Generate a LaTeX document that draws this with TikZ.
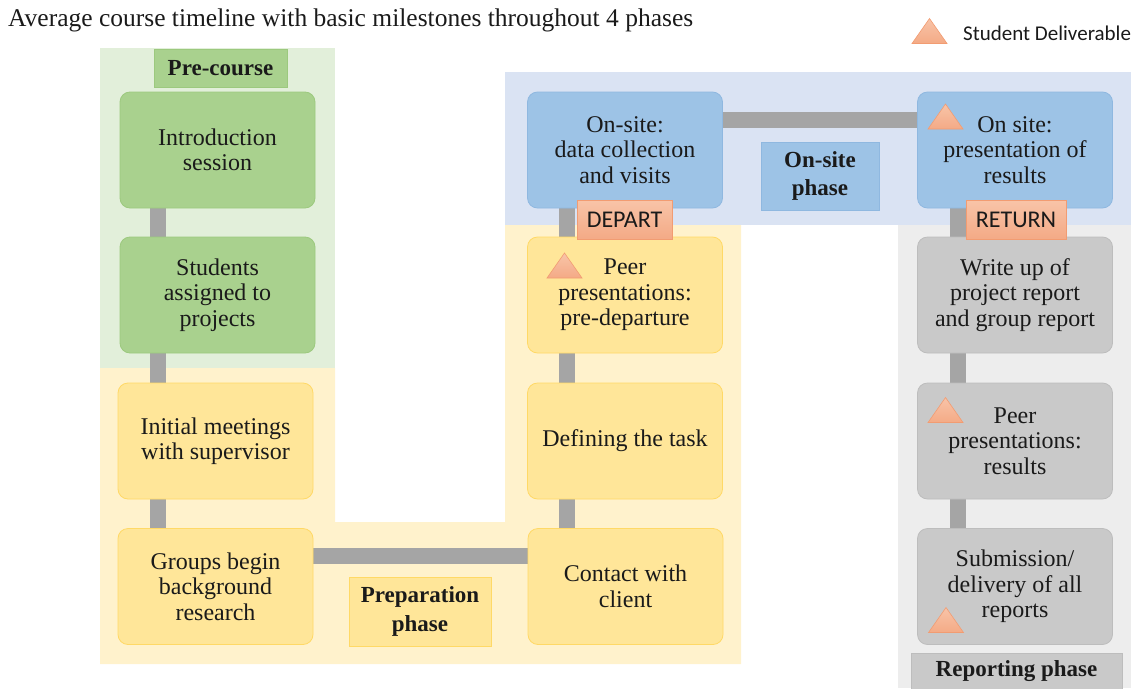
\documentclass[tikz,border=0pt]{standalone}
\usepackage{fontspec}
\setmainfont{Liberation Serif}
\newfontfamily\calibri{Carlito}
\newfontfamily\serifbox{Liberation Serif}
\pgfdeclarelayer{bglayer}
\pgfdeclarelayer{connlayer}
\pgfsetlayers{bglayer,connlayer,main}
\definecolor{gbg}{HTML}{E2EFDA}
\definecolor{gbox}{HTML}{A9D18E}
\definecolor{gline}{HTML}{9CC97E}
\definecolor{ybg}{HTML}{FFF2CC}
\definecolor{ybox}{HTML}{FFE699}
\definecolor{yline}{HTML}{FFD966}
\definecolor{bbg}{HTML}{DAE3F3}
\definecolor{bbox}{HTML}{9DC3E6}
\definecolor{bline}{HTML}{8FB8E0}
\definecolor{rbg}{HTML}{EDEDED}
\definecolor{rbox}{HTML}{C9C9C9}
\definecolor{rline}{HTML}{BDBDBD}
\definecolor{barc}{HTML}{A5A5A5}
\definecolor{salmon}{HTML}{F4AA86}
\definecolor{salmontop}{HTML}{F8C4A8}
\definecolor{salmonline}{HTML}{F29C72}
\definecolor{txt}{HTML}{1A1A1A}
\begin{document}
\begin{tikzpicture}[x=1pt,y=-1pt,
  box/.style={rounded corners=10pt, minimum width=195pt, minimum height=116pt,
    align=center, font=\serifbox\fontsize{24}{25.5}\selectfont, text=txt, line width=0.8pt, inner sep=0pt},
  gbx/.style={box, fill=gbox, draw=gline},
  ybx/.style={box, fill=ybox, draw=yline},
  bbx/.style={box, fill=bbox, draw=bline},
  rbx/.style={box, fill=rbox, draw=rline},
  phase/.style={align=center, font=\serifbox\fontsize{23}{28.5}\selectfont\bfseries, text=txt, inner sep=0pt, line width=0.8pt},
  tag/.style={font=\calibri\fontsize{24}{26}\selectfont, text=txt, top color=salmontop, bottom color=salmon, draw=salmonline, line width=0.8pt, minimum height=39pt, inner sep=0pt},
  barline/.style={draw=barc, line width=16pt},
  deliv/.pic={\shade[top color=salmontop, bottom color=salmon, draw=salmonline, line width=0.6pt] (-17.5,12.5) -- (0,-12.5) -- (17.5,12.5) -- cycle;}
]
\useasboundingbox (0,0) rectangle (1142,688);
% backgrounds
\begin{pgfonlayer}{bglayer}
\fill[gbg] (100,48) rectangle (335,368);
\fill[ybg] (100,368) -- (335,368) -- (335,522) -- (505,522) -- (505,225) -- (741,225) -- (741,664) -- (100,664) -- cycle;
\fill[bbg] (505,72) rectangle (1131,225);
\fill[rbg] (898,225) rectangle (1131,688);
\end{pgfonlayer}
% title and legend
\node[anchor=base west, font=\serifbox\fontsize{25.5}{28}\selectfont, text=txt, inner sep=0pt] (title) at (8,27) {Average course timeline with basic milestones throughout 4 phases};
\pic at (929.5,31) {deliv};
\node[anchor=base west, font=\calibri\fontsize{21}{24}\selectfont, text=txt, inner sep=0pt] (legend) at (963,40) {Student Deliverable};
% boxes
\node[gbx] (intro) at (217.5,150) {Introduction\\session};
\node[gbx] (assign) at (217.5,295) {Students\\assigned to\\projects};
\node[ybx] (initial) at (215.5,441) {Initial meetings\\with supervisor};
\node[ybx] (groups) at (215.5,586.5) {Groups begin\\background\\research};
\node[ybx] (contact) at (625.5,586.5) {Contact with\\client};
\node[ybx] (define) at (625,441) {Defining the task};
\node[ybx] (peerpre) at (625,295) {Peer\\presentations:\\pre-departure};
\node[bbx] (onsite) at (625,150) {On-site:\\data collection\\and visits};
\node[bbx] (onpres) at (1015,150) {On site:\\presentation of\\results};
\node[rbx] (writeup) at (1015,295) {Write up of\\project report\\and group report};
\node[rbx] (peerres) at (1015,441) {Peer\\presentations:\\results};
\node[rbx] (submit) at (1015,586.5) {Submission/\\delivery of all\\reports};
% connectors (behind boxes)
\begin{pgfonlayer}{connlayer}
\draw[barline] ([xshift=-59.5pt]intro.center) -- ([xshift=-59.5pt]assign.center);
\draw[barline] ([xshift=-59.5pt]assign.center) -- ([xshift=-57.5pt]initial.center);
\draw[barline] ([xshift=-57.5pt]initial.center) -- ([xshift=-57.5pt]groups.center);
\draw[barline] ([yshift=30.5pt]groups.center) -- ([yshift=30.5pt]contact.center);
\draw[barline] ([xshift=-58.5pt]contact.center) -- ([xshift=-58pt]define.center);
\draw[barline] ([xshift=-58pt]define.center) -- ([xshift=-58pt]peerpre.center);
\draw[barline] ([xshift=-58pt]peerpre.center) -- ([xshift=-58pt]onsite.center);
\draw[barline] ([yshift=30pt]onsite.center) -- ([yshift=30pt]onpres.center);
\draw[barline] ([xshift=-57pt]onpres.center) -- ([xshift=-57pt]writeup.center);
\draw[barline] ([xshift=-57pt]writeup.center) -- ([xshift=-57pt]peerres.center);
\draw[barline] ([xshift=-57pt]peerres.center) -- ([xshift=-57pt]submit.center);
\end{pgfonlayer}
% phase labels
\node[phase, fill=gbox, draw=gline, minimum width=133pt, minimum height=38pt] (pre) at (220.5,68) {Pre-course};
\node[phase, fill=ybox, draw=yline, minimum width=142pt, minimum height=69pt] (prep) at (420,611.5) {Preparation\\phase};
\node[phase, fill=bbox, draw=bline, minimum width=118pt, minimum height=68pt] (onph) at (820,176) {On-site\\phase};
\node[phase, fill=rbox, draw=rline, minimum width=211pt, minimum height=36pt, anchor=north] (repph) at (1016.5,653) {Reporting phase};
% departure / return tags
\node[tag, minimum width=95pt] (depart) at (624.5,219.5) {DEPART};
\node[tag, minimum width=100pt] (return) at (1016,219.5) {RETURN};
% deliverables
\pic at (945.5,116.5) {deliv};
\pic at (564.5,265.5) {deliv};
\pic at (945.5,410) {deliv};
\pic at (946,620) {deliv};
\end{tikzpicture}
\end{document}
